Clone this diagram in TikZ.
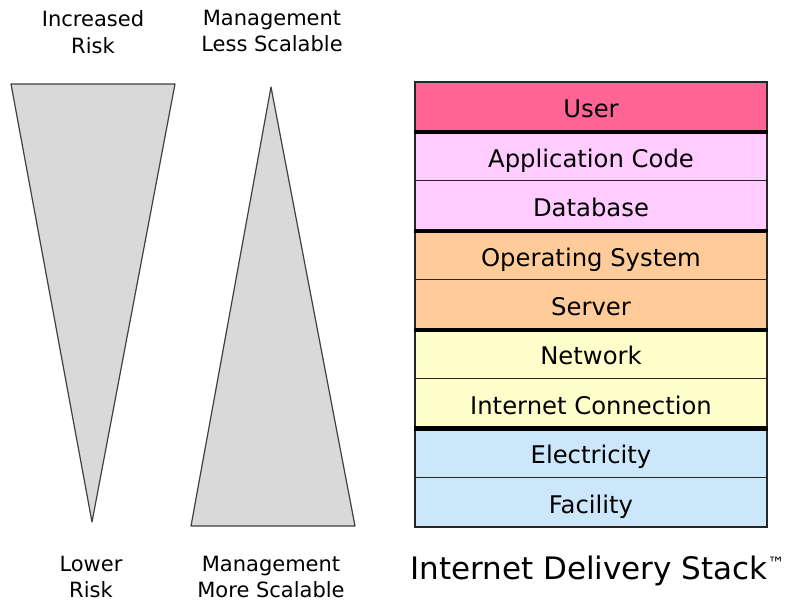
\documentclass[tikz,border=0pt]{standalone}
\usepackage{fontspec}
\setmainfont{DejaVu Sans}
\usepackage{tikz}
\usetikzlibrary{positioning}

\definecolor{userred}{RGB}{255,100,150}
\definecolor{apppink}{RGB}{255,204,255}
\definecolor{sysorange}{RGB}{255,204,153}
\definecolor{netyellow}{RGB}{255,255,204}
\definecolor{powerblue}{RGB}{204,230,250}
\definecolor{wedgegray}{RGB}{217,217,217}

\begin{document}
\begin{tikzpicture}
            [
            x=1pt,y=-1pt,
            side/.style={font={\fontsize{21}{26.5}\selectfont},align=center,inner sep=0pt},
            layer/.style={draw=black!85,line width=1.2pt,minimum width=352pt,
                minimum height=49.44pt,inner sep=0pt,text height=24pt,text depth=2pt,
                font={\fontsize{24.3}{29}\selectfont}},
            groupline/.style={black,line width=4.5pt},
            wedge/.style={fill=wedgegray,draw=black!75,line width=1.2pt,line join=round},
            ]
            \useasboundingbox (0,0) rectangle (786,602);

            % Wedges
            \draw[wedge] (11,84) -- (175,84) -- (92,522) -- cycle;
            \draw[wedge] (271,87) -- (355,526) -- (191,526) -- cycle;

            % Wedge labels
            \node[side] (riskhi) at (93,32) {Increased\\Risk};
            \node[side] (mgmtless) at (272,31) {Management\\Less Scalable};
            \node[side] (risklo) at (91,577) {Lower\\Risk};
            \node[side] (mgmtmore) at (271,577) {Management\\More Scalable};

            % Stack
            \foreach \name/\txt/\col [count=\i from 0] in {
                user/User/userred,
                app/Application Code/apppink,
                db/Database/apppink,
                os/Operating System/sysorange,
                server/Server/sysorange,
                net/Network/netyellow,
                inet/Internet Connection/netyellow,
                elec/Electricity/powerblue,
                fac/Facility/powerblue}
            {
                \node[layer,fill=\col] (\name) at (591,{82+49.44*\i+24.72}) {\txt};
            }

            % Group borders
            \draw[groupline] (user.south west) -- (user.south east);
            \draw[groupline] (db.south west) -- (db.south east);
            \draw[groupline] (server.south west) -- (server.south east);
            \draw[groupline] (inet.south west) -- (inet.south east);

            % Title
            \node[anchor=base west,inner sep=0pt,font={\fontsize{31}{36}\selectfont}]
                (title) at (410,579) {Internet Delivery Stack\raisebox{10pt}{\fontsize{17}{17}\selectfont ™}};
        \end{tikzpicture}
\end{document}
